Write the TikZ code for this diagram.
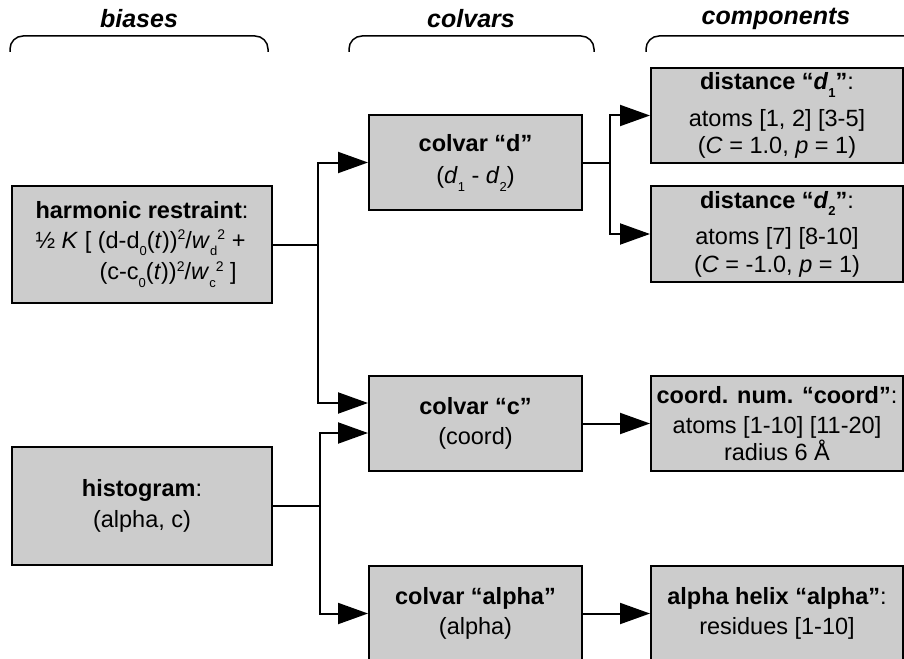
\documentclass[tikz,border=0pt]{standalone}
\usepackage{fontspec}
\setmainfont{Liberation Sans}
\usetikzlibrary{arrows.meta}
\definecolor{boxgray}{HTML}{CCCCCC}
\newcommand\lowsub[1]{\raisebox{-0.32em}{\fontsize{13}{13}\selectfont #1}}
\newcommand\upsup[1]{\raisebox{0.36em}{\fontsize{14}{14}\selectfont #1}}
\begin{document}
\begin{tikzpicture}[x=1pt,y=-1pt,
  box/.style={draw=black, line width=2pt, fill=boxgray, align=center, inner sep=0pt,
    font=\fontsize{23.5}{27.5}\selectfont},
  arr/.style={line width=2pt, -{Triangle[length=30pt,width=21pt]}},
  conn/.style={line width=2pt},
  brace/.style={line width=1.5pt, rounded corners=13pt},
  head/.style={font=\fontsize{25}{29}\selectfont\bfseries\itshape, inner sep=0pt}]
\useasboundingbox (0,0) rectangle (904,658);
\clip (0,0) rectangle (904,658);

% headings and braces
\node[head] (hb) at (139,19) {biases};
\node[head] (hc) at (471,19) {colvars};
\node[head] (hp) at (776,19) {components};
\draw[brace] (10,52) -- (10,36) -- (268,36) -- (268,52);
\draw[brace] (349,52) -- (349,36) -- (594,36) -- (594,52);
\draw[brace] (646,52) -- (646,36) -- (920,36) -- (920,52);

% biases
\node[box, align=left, minimum width=260pt, minimum height=117pt] (harm) at (142,244.5)
  {\textbf{harmonic restraint}:\\[2pt]
   ½ \textit{K} [ (d-d\lowsub{0}(\textit{t}))\upsup{2}/\textit{w}\lowsub{d}\upsup{2} +\\[4pt]
   \hspace*{64pt}(c-c\lowsub{0}(\textit{t}))\upsup{2}/\textit{w}\lowsub{c}\upsup{2} ]};
\node[box, minimum width=260pt, minimum height=118pt] (hist) at (142,506)
  {\textbf{histogram}:\\[4pt] (alpha, c)};

% colvars
\node[box, minimum width=213pt, minimum height=95pt] (cvd) at (475.5,162.5)
  {\textbf{colvar “d”}\\[5pt] (\textit{d}\lowsub{1} - \textit{d}\lowsub{2})};
\node[box, minimum width=213pt, minimum height=95pt] (cvc) at (475.5,423.5)
  {\textbf{colvar “c”}\\[3pt] (coord)};
\node[box, minimum width=213pt, minimum height=95pt] (cva) at (475.5,613.5)
  {\textbf{colvar “alpha”}\\[3pt] (alpha)};

% components
\node[box, minimum width=252pt, minimum height=95pt] (d1) at (777,115.5)
  {\textbf{distance “\textit{d}\lowsub{1}”}:\\[9pt] atoms [1, 2] [3-5]\\[0pt] (\textit{C} = 1.0, \textit{p} = 1)};
\node[box, minimum width=252pt, minimum height=96pt] (d2) at (777,234)
  {\textbf{distance “\textit{d}\lowsub{2}”}:\\[9pt] atoms [7] [8-10]\\[0pt] (\textit{C} = -1.0, \textit{p} = 1)};
\node[box, minimum width=252pt, minimum height=95pt] (coord) at (777,423.5)
  {\textbf{coord. num. “coord”}:\\[3pt] atoms [1-10] [11-20]\\[-1pt] radius 6 Å};
\node[box, minimum width=252pt, minimum height=95pt] (ahx) at (777,613.5)
  {\textbf{alpha helix “alpha”}:\\[2pt] residues [1-10]};

% junctions
\coordinate (j1) at (318,244.5);
\coordinate (j2) at (320,506);
\coordinate (j3) at (610,162.5);

% connectors
\draw[conn] (harm.east) -- (j1);
\draw[arr] (j1) |- (cvd.west);
\draw[arr] (j1) |- ([yshift=20.5pt]cvc.west);
\draw[conn] (hist.east) -- (j2);
\draw[arr] (j2) |- ([yshift=-9.5pt]cvc.west);
\draw[arr] (j2) |- (cva.west);
\draw[conn] (cvd.east) -- (j3);
\draw[arr] (j3) |- (d1.west);
\draw[arr] (j3) |- (d2.west);
\draw[arr] (cvc.east) -- (coord.west);
\draw[arr] (cva.east) -- (ahx.west);
\end{tikzpicture}
\end{document}
